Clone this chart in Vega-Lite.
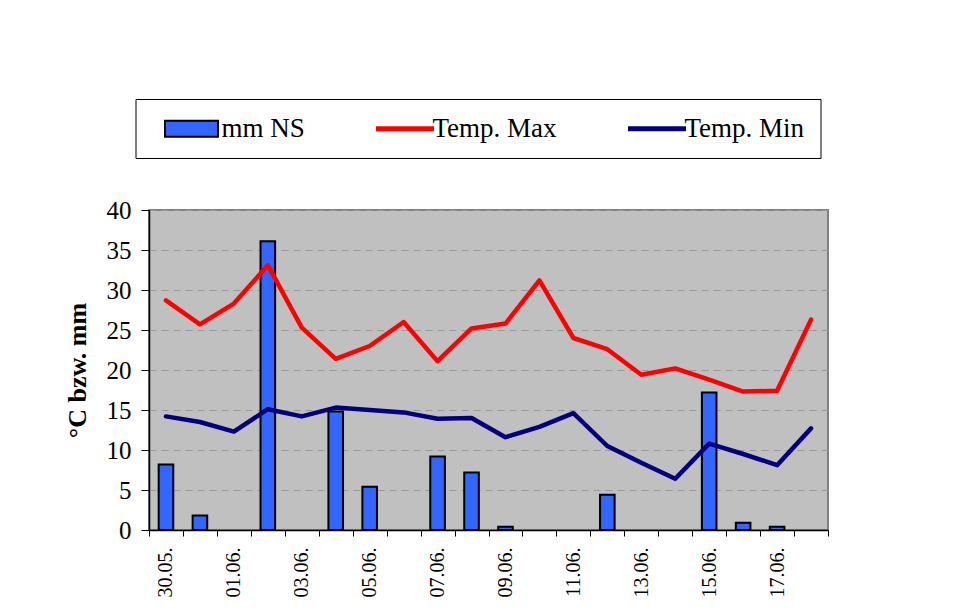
{
  "$schema": "https://vega.github.io/schema/vega-lite/v6.json",
  "autosize": "none",
  "width": 679,
  "height": 320,
  "padding": {"left": 149, "top": 210, "right": 134, "bottom": 85},
  "background": "white",
  "config": {
    "font": "Liberation Serif",
    "view": {"fill": "#C0C0C0", "stroke": "#808080", "strokeWidth": 2},
    "axis": {
      "labelFont": "Liberation Serif",
      "titleFont": "Liberation Serif",
      "labelColor": "black",
      "titleColor": "black",
      "domainColor": "black",
      "tickColor": "black"
    }
  },
  "data": {
    "values": [
      {"date": "30.05.", "ns": 8.2, "tmax": 28.7, "tmin": 14.2},
      {"date": "31.05.", "ns": 1.8, "tmax": 25.7, "tmin": 13.5},
      {"date": "01.06.", "ns": 0, "tmax": 28.3, "tmin": 12.3},
      {"date": "02.06.", "ns": 36.1, "tmax": 33.1, "tmin": 15.1},
      {"date": "03.06.", "ns": 0, "tmax": 25.3, "tmin": 14.2},
      {"date": "04.06.", "ns": 14.8, "tmax": 21.4, "tmin": 15.3},
      {"date": "05.06.", "ns": 5.4, "tmax": 23.0, "tmin": 15.0},
      {"date": "06.06.", "ns": 0, "tmax": 26.0, "tmin": 14.7},
      {"date": "07.06.", "ns": 9.2, "tmax": 21.1, "tmin": 13.9},
      {"date": "08.06.", "ns": 7.2, "tmax": 25.2, "tmin": 14.0},
      {"date": "09.06.", "ns": 0.4, "tmax": 25.8, "tmin": 11.6},
      {"date": "10.06.", "ns": 0, "tmax": 31.2, "tmin": 12.9},
      {"date": "11.06.", "ns": 0, "tmax": 24.0, "tmin": 14.6},
      {"date": "12.06.", "ns": 4.4, "tmax": 22.6, "tmin": 10.5},
      {"date": "13.06.", "ns": 0, "tmax": 19.4, "tmin": 8.4},
      {"date": "14.06.", "ns": 0, "tmax": 20.2, "tmin": 6.4},
      {"date": "15.06.", "ns": 17.2, "tmax": 18.8, "tmin": 10.8},
      {"date": "16.06.", "ns": 0.9, "tmax": 17.3, "tmin": 9.5},
      {"date": "17.06.", "ns": 0.4, "tmax": 17.4, "tmin": 8.1},
      {"date": "18.06.", "ns": 0, "tmax": 26.3, "tmin": 12.7}
    ]
  },
  "layer": [
    {
      "transform": [{"filter": "datum.ns > 0"}],
      "mark": {"type": "bar", "width": {"band": 0.43}, "fill": "#3366FF", "stroke": "black", "strokeWidth": 2},
      "encoding": {
        "x": {
          "field": "date", "type": "nominal", "sort": null,
          "scale": {
            "domain": ["30.05.", "31.05.", "01.06.", "02.06.", "03.06.", "04.06.", "05.06.", "06.06.", "07.06.", "08.06.", "09.06.", "10.06.", "11.06.", "12.06.", "13.06.", "14.06.", "15.06.", "16.06.", "17.06.", "18.06."],
            "paddingInner": 0, "paddingOuter": 0
          },
          "axis": {
            "title": null,
            "tickBand": "extent",
            "tickSize": 6,
            "domainWidth": 1.5,
            "labelAngle": -90,
            "labelFontSize": 20,
            "labelPadding": 11,
            "labelOverlap": false,
            "labelExpr": "indexof(['30.05.','01.06.','03.06.','05.06.','07.06.','09.06.','11.06.','13.06.','15.06.','17.06.'], datum.value) >= 0 ? datum.value : ''"
          }
        },
        "y": {
          "field": "ns", "type": "quantitative",
          "scale": {"domain": [0, 40]},
          "title": "°C bzw. mm",
          "axis": {
            "values": [0, 5, 10, 15, 20, 25, 30, 35, 40],
            "tickCount": 20,
            "labelOverlap": false,
            "tickSize": 8,
            "domainWidth": 1.5,
            "labelFontSize": 25,
            "labelPadding": 10,
            "titleFontSize": 26,
            "titleFontWeight": "bold",
            "titlePadding": 16,
            "grid": true,
            "gridColor": "#999999",
            "gridDash": [7, 5],
            "gridWidth": 1
          }
        }
      }
    },
    {
      "mark": {"type": "line", "strokeWidth": 4.5, "strokeJoin": "round", "strokeCap": "round"},
      "encoding": {
        "x": {"field": "date", "type": "nominal", "sort": null},
        "y": {
          "field": "tmax", "type": "quantitative", "title": "°C bzw. mm",
          "axis": {
            "values": [0, 5, 10, 15, 20, 25, 30, 35, 40],
            "tickCount": 20,
            "labelOverlap": false,
            "tickSize": 8,
            "domainWidth": 1.5,
            "labelFontSize": 25,
            "labelPadding": 10,
            "titleFontSize": 26,
            "titleFontWeight": "bold",
            "titlePadding": 16,
            "grid": true,
            "gridColor": "#999999",
            "gridDash": [7, 5],
            "gridWidth": 1
          }
        },
        "color": {
          "datum": "Temp. Max", "type": "nominal",
          "scale": {"domain": ["mm NS", "Temp. Max", "Temp. Min"], "range": ["#000000", "#FF0000", "#000080"]},
          "legend": {
            "orient": "none",
            "legendX": -13.5,
            "legendY": -111,
            "direction": "horizontal",
            "title": null,
            "padding": 16,
            "strokeColor": "black",
            "fillColor": "white",
            "symbolSize": 4,
            "symbolType": {"expr": "datum.value === 'mm NS' ? 'M0,-8H53V8H0Z' : 'M0,0H58'"},
            "symbolFillColor": {"expr": "datum.value === 'mm NS' ? '#3366FF' : 'transparent'"},
            "symbolStrokeColor": {"expr": "datum.value === 'mm NS' ? 'black' : (datum.value === 'Temp. Max' ? '#FF0000' : '#000080')"},
            "symbolStrokeWidth": {"expr": "datum.value === 'mm NS' ? 2 : 5"},
            "symbolOpacity": 1,
            "labelFont": "Liberation Serif",
            "labelFontSize": 27,
            "labelColor": "black",
            "labelOffset": 43,
            "labelLimit": 400,
            "columnPadding": 57
          }
        }
      }
    },
    {
      "mark": {"type": "line", "strokeWidth": 4.5, "strokeJoin": "round", "strokeCap": "round"},
      "encoding": {
        "x": {"field": "date", "type": "nominal", "sort": null},
        "y": {
          "field": "tmin", "type": "quantitative", "title": "°C bzw. mm",
          "axis": {
            "values": [0, 5, 10, 15, 20, 25, 30, 35, 40],
            "tickCount": 20,
            "labelOverlap": false,
            "tickSize": 8,
            "domainWidth": 1.5,
            "labelFontSize": 25,
            "labelPadding": 10,
            "titleFontSize": 26,
            "titleFontWeight": "bold",
            "titlePadding": 16,
            "grid": true,
            "gridColor": "#999999",
            "gridDash": [7, 5],
            "gridWidth": 1
          }
        },
        "color": {"datum": "Temp. Min", "type": "nominal"}
      }
    }
  ]
}
